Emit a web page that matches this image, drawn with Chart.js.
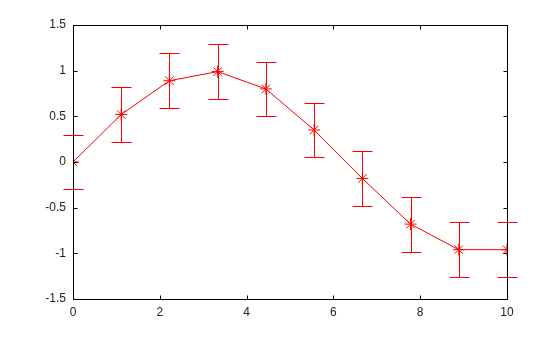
<!DOCTYPE html>
<html><head><meta charset="utf-8">
<script src="https://cdn.jsdelivr.net/npm/chart.js@4/dist/chart.umd.min.js"></script>
<style>html,body{margin:0;padding:0;background:#fff}#w{width:560px;height:337px}</style>
</head><body><div id="w"><canvas id="c" width="560" height="337"></canvas></div>
<script>
const xValues = [0, 1.111, 2.222, 3.333, 4.444, 5.556, 6.667, 7.778, 8.889, 10];
const yValues = [0, 0.52, 0.89, 0.99, 0.80, 0.35, -0.18, -0.68, -0.96, -0.96];
const yErrors = [0.3, 0.3, 0.3, 0.3, 0.3, 0.3, 0.3, 0.3, 0.3, 0.3];
const xTicks = [0, 2, 4, 6, 8, 10];
const yTicks = [-1.5, -1, -0.5, 0, 0.5, 1, 1.5];
const xTickLabels = ['0', '2', '4', '6', '8', '10'];
const yTickLabels = ['-1.5', '-1', '-0.5', '0', '0.5', '1', '1.5'];

const RED = '#ff0000';
const errorBars = {
  id: 'errorBars',
  afterDatasetsDraw(chart) {
    const ctx = chart.ctx, xs = chart.scales.x, ys = chart.scales.y;
    ctx.save();
    ctx.strokeStyle = RED; ctx.lineWidth = 1;
    for (let i = 0; i < xValues.length; i++) {
      const px = Math.round(xs.getPixelForValue(xValues[i])) + 0.5;
      const top = Math.round(ys.getPixelForValue(yValues[i] + yErrors[i])) + 0.5;
      const bot = Math.round(ys.getPixelForValue(yValues[i] - yErrors[i])) + 0.5;
      ctx.beginPath();
      ctx.moveTo(px, top); ctx.lineTo(px, bot);
      ctx.moveTo(px - 10, top); ctx.lineTo(px + 10, top);
      ctx.moveTo(px - 10, bot); ctx.lineTo(px + 10, bot);
      ctx.stroke();
    }
    ctx.restore();
  }
};
const frame = {
  id: 'frame',
  afterDraw(chart) {
    const ctx = chart.ctx, a = chart.chartArea, xs = chart.scales.x, ys = chart.scales.y;
    const L = Math.round(a.left) + 0.5, R = Math.round(a.right) + 0.5;
    const T = Math.round(a.top) + 0.5, B = Math.round(a.bottom) + 0.5;
    ctx.save();
    ctx.strokeStyle = '#000'; ctx.lineWidth = 1;
    ctx.strokeRect(L, T, R - L, B - T);
    ctx.beginPath();
    xTicks.forEach(v => {
      const p = Math.round(xs.getPixelForValue(v)) + 0.5;
      ctx.moveTo(p, B); ctx.lineTo(p, B - 4);
      ctx.moveTo(p, T); ctx.lineTo(p, T + 4);
    });
    yTicks.forEach(v => {
      const p = Math.round(ys.getPixelForValue(v)) + 0.5;
      ctx.moveTo(L, p); ctx.lineTo(L + 4, p);
      ctx.moveTo(R, p); ctx.lineTo(R - 4, p);
    });
    ctx.stroke();
    ctx.restore();
  }
};

new Chart(document.getElementById('c'), {
  type: 'scatter',
  data: {
    datasets: [{
      data: xValues.map((x, i) => ({x: x, y: yValues[i]})),
      showLine: true,
      borderColor: RED,
      backgroundColor: RED,
      borderWidth: 1,
      pointStyle: 'star',
      pointRadius: 6,
      pointBorderWidth: 1,
      pointHoverRadius: 6,
      tension: 0
    }]
  },
  options: {
    responsive: false,
    animation: false,
    events: [],
    layout: {padding: {left: 0, right: 53, top: 25, bottom: 0}},
    plugins: {legend: {display: false}, tooltip: {enabled: false}},
    scales: {
      x: {
        type: 'linear', min: 0, max: 10,
        grid: {display: false, drawTicks: false},
        border: {display: false},
        afterFit(s) { s.height = 38; },
        afterBuildTicks(s) { s.ticks = xTicks.map(v => ({value: v})); },
        ticks: {
          padding: 6, color: '#222', maxRotation: 0, autoSkip: false,
          font: {family: 'Liberation Sans, Arial, sans-serif', size: 12},
          callback: (v) => xTickLabels[xTicks.indexOf(v)]
        }
      },
      y: {
        type: 'linear', min: -1.5, max: 1.5,
        grid: {display: false, drawTicks: false},
        border: {display: false},
        afterFit(s) { s.width = 73; },
        afterBuildTicks(s) { s.ticks = yTicks.map(v => ({value: v})); },
        ticks: {
          padding: 7, color: '#222', autoSkip: false,
          font: {family: 'Liberation Sans, Arial, sans-serif', size: 12},
          callback: (v) => yTickLabels[yTicks.indexOf(v)]
        }
      }
    }
  },
  plugins: [errorBars, frame]
});
</script></body></html>
